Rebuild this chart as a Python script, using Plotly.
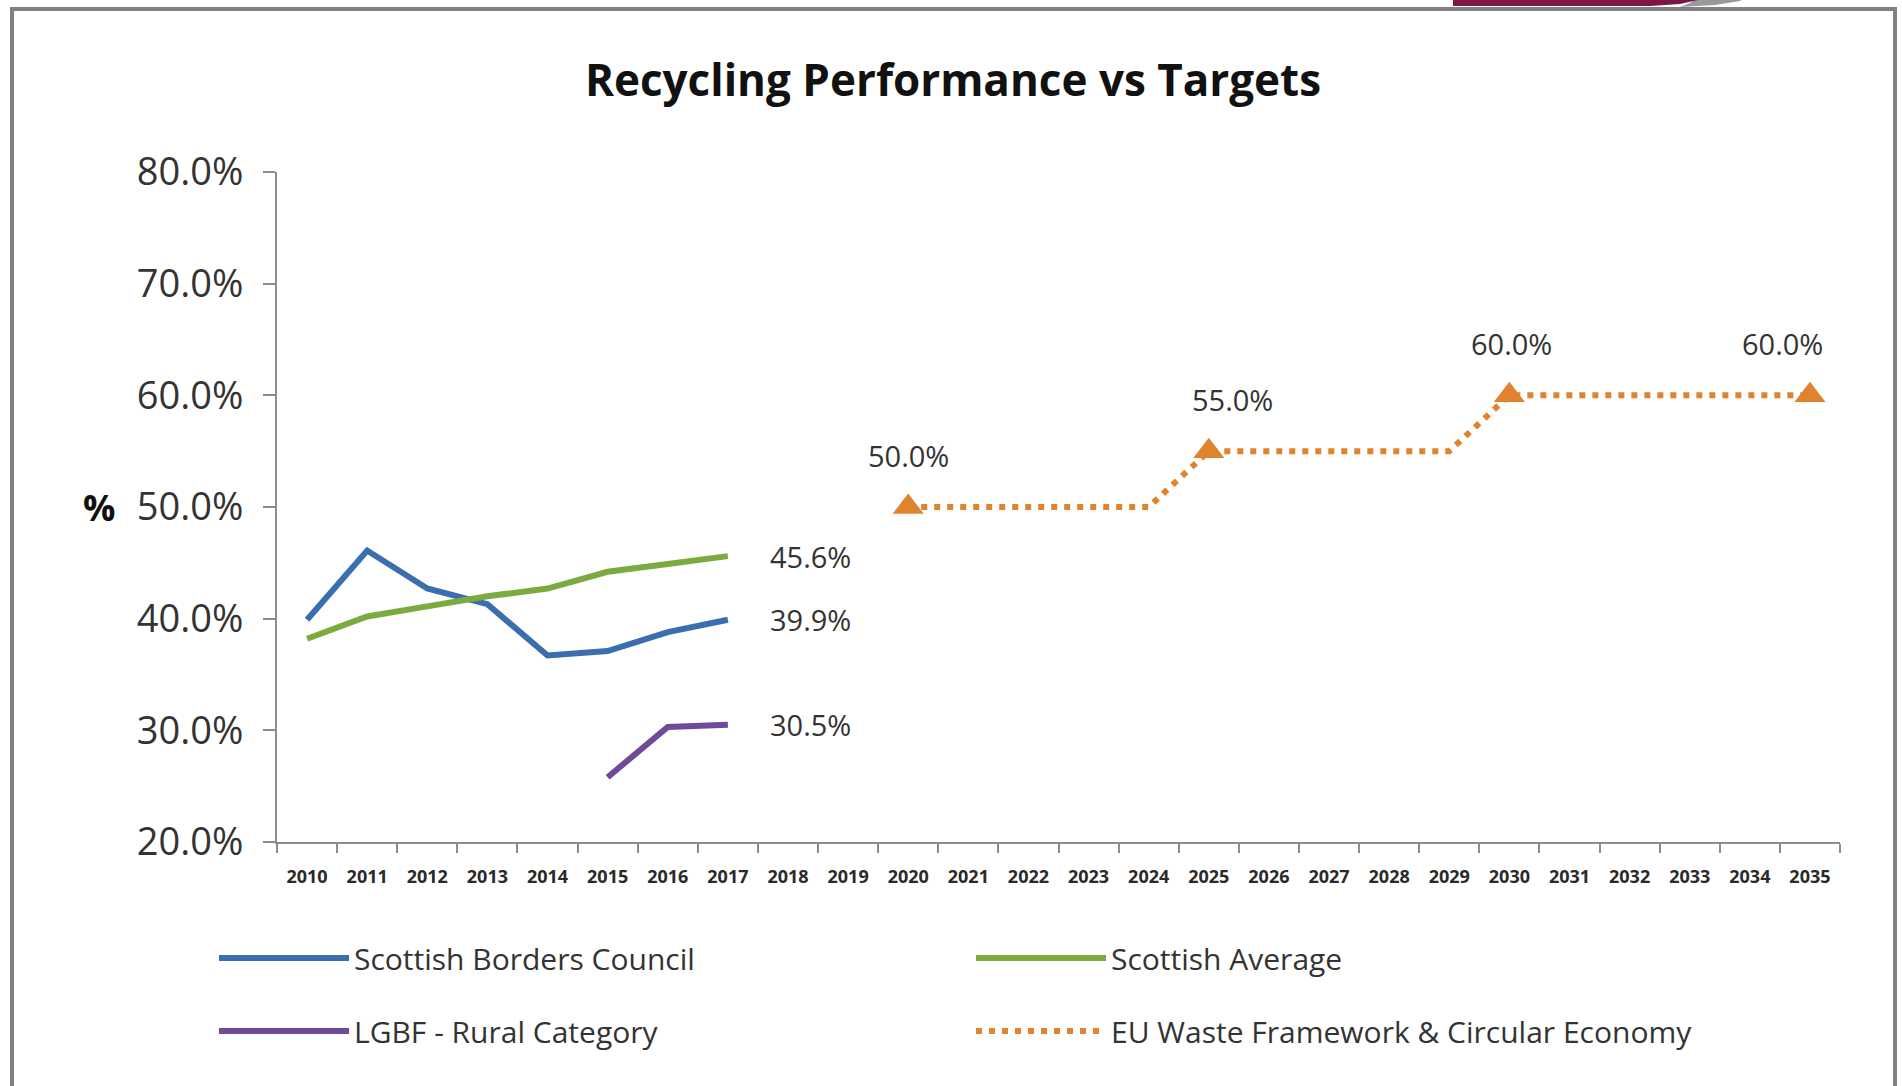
import plotly.graph_objects as go

# ---------------- data ----------------
years = [str(y) for y in range(2010, 2036)]

sbc_years = ["2010", "2011", "2012", "2013", "2014", "2015", "2016", "2017"]
sbc_values = [39.9, 46.1, 42.7, 41.3, 36.7, 37.1, 38.8, 39.9]

avg_years = ["2010", "2011", "2012", "2013", "2014", "2015", "2016", "2017"]
avg_values = [38.2, 40.2, 41.1, 42.0, 42.7, 44.2, 44.9, 45.6]

lgbf_years = ["2015", "2016", "2017"]
lgbf_values = [25.8, 30.3, 30.5]

eu_years = [str(y) for y in range(2020, 2036)]
eu_values = [50, 50, 50, 50, 50, 55, 55, 55, 55, 55, 60, 60, 60, 60, 60, 60]

eu_marker_years = ["2020", "2025", "2030", "2035"]
eu_marker_values = [50, 55, 60, 60]

y_ticks = [20, 30, 40, 50, 60, 70, 80]

# ---------------- style ----------------
BLUE = "#3A6EAE"
GREEN = "#7BAA3E"
PURPLE = "#6E4A98"
ORANGE = "#E0832F"
AXIS = "#8C8C8C"
TXT = "#333333"
FONT = "Open Sans"

W, H = 1902, 1086
PL, PR, PT, PB = 277, 1840, 172, 842   # plot area in pixels


def px2x(px):
    return (px - PL) / (PR - PL)


def py2y(py):
    return (PB - py) / (PB - PT)


fig = go.Figure()

fig.add_trace(go.Scatter(x=sbc_years, y=sbc_values, mode="lines",
                         name="Scottish Borders Council",
                         line=dict(color=BLUE, width=6), legend="legend"))
fig.add_trace(go.Scatter(x=avg_years, y=avg_values, mode="lines",
                         name="Scottish Average",
                         line=dict(color=GREEN, width=6), legend="legend"))
fig.add_trace(go.Scatter(x=lgbf_years, y=lgbf_values, mode="lines",
                         name="LGBF - Rural Category",
                         line=dict(color=PURPLE, width=6), legend="legend2"))
fig.add_trace(go.Scatter(x=eu_years, y=eu_values, mode="lines",
                         name="EU Waste Framework & Circular Economy",
                         line=dict(color=ORANGE, width=6, dash="6px,7px"),
                         legend="legend2"))
fig.add_trace(go.Scatter(x=eu_marker_years, y=eu_marker_values, mode="markers",
                         marker=dict(symbol="triangle-up", size=27, color=ORANGE),
                         showlegend=False, hoverinfo="skip"))

# end-of-line value labels (category axes take the category index)
for yrs, vals in [(avg_years, avg_values), (sbc_years, sbc_values), (lgbf_years, lgbf_values)]:
    fig.add_annotation(x=years.index(yrs[-1]), y=vals[-1], text=f"{vals[-1]:.1f}%",
                       showarrow=False, xanchor="left", yanchor="middle",
                       xshift=40, font=dict(family=FONT, size=29, color=TXT))

# target labels
target_xshift = [0, 24, 2, -27]
for yr, v, dx in zip(eu_marker_years, eu_marker_values, target_xshift):
    fig.add_annotation(x=years.index(yr), y=v, text=f"{v:.1f}%", showarrow=False,
                       xanchor="center", yanchor="middle", xshift=dx, yshift=52,
                       font=dict(family=FONT, size=29, color=TXT))

# "%" axis label (upright)
fig.add_annotation(xref="paper", yref="y", x=px2x(99), y=50, text="<b>%</b>",
                   showarrow=False, xanchor="center", yanchor="middle",
                   font=dict(family=FONT, size=36, color="#111111"))

# frame around the picture
fig.add_shape(type="rect", xref="paper", yref="paper",
              x0=px2x(12), x1=px2x(1895), y0=py2y(1100), y1=py2y(9),
              line=dict(color="#808080", width=4), layer="below")


# logo fragment at the top right edge
def pth(points):
    s = ""
    for i, (a, b) in enumerate(points):
        s += ("M" if i == 0 else "L") + f"{px2x(a):.5f},{py2y(b):.5f} "
    return s + "Z"


fig.add_shape(type="path", xref="paper", yref="paper",
              path=pth([(1680, 7), (1715, 5), (1740, 1), (1747, -4), (1700, -4), (1690, 3)]),
              fillcolor="#9A9A9A", line=dict(width=0), layer="above")
fig.add_shape(type="path", xref="paper", yref="paper",
              path=pth([(1453, -4), (1453, 6), (1650, 6), (1680, 4), (1698, 0), (1705, -4)]),
              fillcolor="#7D1549", line=dict(width=0), layer="above")

fig.update_layout(
    width=W, height=H,
    margin=dict(l=PL, r=W - PR, t=PT, b=H - PB),
    paper_bgcolor="white", plot_bgcolor="white",
    font=dict(family=FONT, color=TXT),
    title=dict(text="<b>Recycling Performance vs Targets</b>",
               x=953 / W, xanchor="center", y=1 - 81 / H, yanchor="middle",
               font=dict(family=FONT, size=44, color="#111111")),
    xaxis=dict(type="category", categoryorder="array", categoryarray=years,
               range=[-0.5, len(years) - 0.5], tickson="boundaries",
               ticks="outside", ticklen=9, tickcolor=AXIS, tickwidth=2,
               ticklabelstandoff=17,
               showline=True, linecolor=AXIS, linewidth=2,
               showgrid=False, zeroline=False,
               tickfont=dict(family=FONT, size=18, color="#2A2A2A", weight="bold")),
    yaxis=dict(range=[20, 80], tickvals=y_ticks,
               ticktext=[f"{v:.1f}%" for v in y_ticks],
               ticks="outside", ticklen=12, tickcolor=AXIS, tickwidth=2,
               ticklabelstandoff=12,
               showline=True, linecolor=AXIS, linewidth=2,
               showgrid=False, zeroline=False,
               tickfont=dict(family=FONT, size=38, color=TXT)),
    legend=dict(orientation="h", x=px2x(214), y=py2y(958), xanchor="left", yanchor="middle",
                itemwidth=130, entrywidthmode="pixels", entrywidth=612,
                font=dict(family=FONT, size=30, color=TXT), bgcolor="rgba(0,0,0,0)"),
    legend2=dict(orientation="h", x=px2x(214), y=py2y(1031), xanchor="left", yanchor="middle",
                 itemwidth=130, entrywidthmode="pixels", entrywidth=612,
                 font=dict(family=FONT, size=30, color=TXT), bgcolor="rgba(0,0,0,0)"),
    showlegend=True,
)

fig.write_html("out.html", config={"displayModeBar": False},
               post_script="document.body.style.margin='0';")
